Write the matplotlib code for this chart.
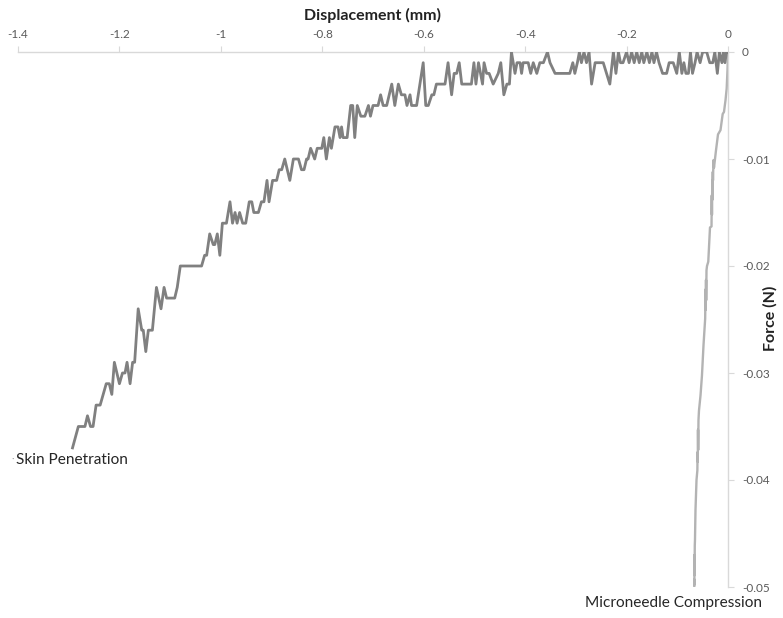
"""
Courbes force / déplacement : pénétration cutanée et compression des micro-aiguilles
"""

import matplotlib
matplotlib.use('Agg')
import matplotlib.pyplot as plt

# Pénétration dans la peau (mm, N)
skin_displacement = [
    -1.2925, -1.281, -1.268, -1.263, -1.257, -1.252, -1.246, -1.238, -1.226, -1.220,
    -1.215, -1.210, -1.200, -1.194, -1.189, -1.185, -1.179, -1.174, -1.170, -1.163,
    -1.156, -1.153, -1.148, -1.143, -1.135, -1.127, -1.118, -1.112, -1.107, -1.091,
    -1.086, -1.080, -1.038, -1.032, -1.028, -1.022, -1.015, -1.012, -1.007, -1.002,
    -0.997, -0.989, -0.982, -0.977, -0.972, -0.968, -0.963, -0.957, -0.951, -0.944,
    -0.939, -0.935, -0.926, -0.920, -0.915, -0.909, -0.905, -0.898, -0.890, -0.885,
    -0.880, -0.874, -0.864, -0.857, -0.847, -0.841, -0.836, -0.831, -0.828, -0.823,
    -0.815, -0.810, -0.801, -0.797, -0.792, -0.786, -0.782, -0.775, -0.769, -0.765,
    -0.762, -0.759, -0.751, -0.744, -0.740, -0.736, -0.731, -0.724, -0.716, -0.709,
    -0.705, -0.700, -0.690, -0.685, -0.680, -0.673, -0.663, -0.657, -0.650, -0.644,
    -0.637, -0.633, -0.627, -0.624, -0.614, -0.601, -0.596, -0.591, -0.584, -0.580,
    -0.575, -0.558, -0.552, -0.545, -0.540, -0.535, -0.530, -0.525, -0.506, -0.501,
    -0.497, -0.492, -0.488, -0.484, -0.481, -0.476, -0.471, -0.463, -0.453, -0.448,
    -0.442, -0.436, -0.431, -0.427, -0.420, -0.416, -0.410, -0.407, -0.404, -0.394,
    -0.389, -0.384, -0.377, -0.371, -0.364, -0.356, -0.351, -0.341, -0.312, -0.306,
    -0.302, -0.297, -0.293, -0.289, -0.284, -0.279, -0.274, -0.269, -0.262, -0.246,
    -0.233, -0.226, -0.221, -0.216, -0.212, -0.207, -0.200, -0.195, -0.190, -0.185,
    -0.180, -0.175, -0.170, -0.166, -0.160, -0.155, -0.150, -0.146, -0.141, -0.136,
    -0.129, -0.121, -0.116, -0.108, -0.101, -0.096, -0.091, -0.087, -0.083, -0.078,
    -0.074, -0.070, -0.065, -0.061, -0.055, -0.050, -0.042, -0.036, -0.030, -0.026,
    -0.021, -0.017, -0.012, -0.009, -0.006, -0.003, 0.0,
]
skin_force = [
    -0.037, -0.035, -0.035, -0.034, -0.035, -0.035, -0.033, -0.033, -0.031, -0.031,
    -0.032, -0.029, -0.031, -0.030, -0.030, -0.029, -0.031, -0.029, -0.029, -0.024,
    -0.026, -0.026, -0.028, -0.026, -0.026, -0.022, -0.024, -0.022, -0.023, -0.023,
    -0.022, -0.020, -0.020, -0.019, -0.019, -0.017, -0.018, -0.018, -0.017, -0.019,
    -0.016, -0.016, -0.014, -0.016, -0.015, -0.016, -0.015, -0.016, -0.016, -0.014,
    -0.014, -0.015, -0.015, -0.014, -0.014, -0.012, -0.014, -0.012, -0.012, -0.011,
    -0.011, -0.010, -0.012, -0.010, -0.010, -0.011, -0.011, -0.010, -0.010, -0.009,
    -0.010, -0.009, -0.009, -0.008, -0.010, -0.008, -0.009, -0.007, -0.007, -0.008,
    -0.007, -0.008, -0.008, -0.005, -0.005, -0.008, -0.005, -0.006, -0.006, -0.005,
    -0.006, -0.005, -0.005, -0.004, -0.005, -0.005, -0.003, -0.005, -0.003, -0.004,
    -0.004, -0.005, -0.004, -0.005, -0.005, -0.001, -0.005, -0.005, -0.004, -0.004,
    -0.003, -0.003, -0.001, -0.004, -0.002, -0.002, -0.001, -0.003, -0.003, -0.001,
    -0.003, -0.001, -0.002, -0.003, -0.001, -0.002, -0.002, -0.003, -0.002, -0.001,
    -0.004, -0.003, -0.003, 0.000, -0.002, -0.001, -0.001, -0.002, -0.001, -0.001,
    -0.002, -0.001, -0.002, -0.001, -0.001, 0.000, -0.001, -0.002, -0.002, -0.001,
    -0.002, -0.001, 0.000, -0.001, 0.000, -0.001, 0.000, -0.003, -0.001, -0.001,
    -0.003, 0.000, -0.002, 0.000, -0.001, -0.001, 0.000, -0.001, 0.000, -0.001,
    0.000, -0.001, 0.000, -0.001, 0.000, -0.001, 0.000, -0.001, 0.000, -0.001,
    -0.002, -0.002, -0.001, -0.001, -0.002, 0.000, -0.002, -0.001, -0.002, -0.002,
    0.000, -0.002, -0.001, 0.000, -0.001, 0.000, 0.000, -0.001, -0.001, 0.000,
    -0.002, 0.000, -0.001, 0.000, -0.001, 0.000, 0.000,
]

# Compression des micro-aiguilles (mm, N)
needle_displacement = [
    0.0, -0.0010, -0.0026, -0.0049, -0.0079, -0.0105, -0.0148, -0.0197, -0.0237, -0.0276,
    -0.0286, -0.0296, -0.0300, -0.0306, -0.0310, -0.0316, -0.0320, -0.0325, -0.0355, -0.0389,
    -0.0414, -0.0424, -0.0430, -0.0434, -0.0440, -0.0444, -0.0450, -0.0483, -0.0513, -0.0542,
    -0.0572, -0.0582, -0.0588, -0.0592, -0.0596, -0.0600, -0.0604, -0.0621, -0.0641, -0.0651,
    -0.0655, -0.0659, -0.0661, -0.0663, -0.0662, -0.0665,
]
needle_force = [
    0.0, -0.0017, -0.0034, -0.0045, -0.0056, -0.0058, -0.0073, -0.0077, -0.0092, -0.0108,
    -0.0101, -0.0120, -0.0112, -0.0138, -0.0120, -0.0152, -0.0134, -0.0163, -0.0164, -0.0196,
    -0.0200, -0.0204, -0.0232, -0.0213, -0.0241, -0.0222, -0.0249, -0.0274, -0.0302, -0.0321,
    -0.0335, -0.0344, -0.0372, -0.0353, -0.0383, -0.0374, -0.0391, -0.0400, -0.0428, -0.0456,
    -0.0461, -0.0489, -0.0470, -0.0498, -0.0493, -0.0500,
]

x_ticks = [-1.4, -1.2, -1.0, -0.8, -0.6, -0.4, -0.2, 0.0]
x_tick_labels = ['-1.4', '-1.2', '-1', '-0.8', '-0.6', '-0.4', '-0.2', '0']
y_ticks = [0.0, -0.01, -0.02, -0.03, -0.04, -0.05]
y_tick_labels = ['0', '-0.01', '-0.02', '-0.03', '-0.04', '-0.05']

AXIS_COLOR = '#d9d9d9'
TEXT_COLOR = '#595959'

plt.rcParams['font.family'] = ['Lato', 'DejaVu Sans']

W, H = 783, 618
fig = plt.figure(figsize=(W / 100, H / 100), dpi=100)
ax = fig.add_axes([18 / W, 1 - 587 / H, 710 / W, 535 / H])

ax.plot(skin_displacement, skin_force, color='#808080', linewidth=2.0,
        solid_joinstyle='round', zorder=3)
ax.plot(needle_displacement, needle_force, color='#b3b3b3', linewidth=1.7,
        solid_joinstyle='round', zorder=2)

ax.set_xlim(-1.4, 0)
ax.set_ylim(-0.05, 0)

# Axes en haut et à droite, comme dans le tableur
ax.xaxis.tick_top()
ax.yaxis.tick_right()
ax.set_xticks(x_ticks)
ax.set_xticklabels(x_tick_labels)
ax.set_yticks(y_ticks)
ax.set_yticklabels(y_tick_labels)
ax.tick_params(axis='both', direction='out', length=4, width=0.8,
               color=AXIS_COLOR, labelcolor=TEXT_COLOR, labelsize=8.5)
ax.tick_params(axis='x', pad=5)
ax.tick_params(axis='y', pad=6)

for side in ['left', 'bottom']:
    ax.spines[side].set_visible(False)
for side in ['top', 'right']:
    ax.spines[side].set_color(AXIS_COLOR)
    ax.spines[side].set_linewidth(1.0)

# Titres des axes
fig.text(373 / W, 1 - 15 / H, 'Displacement (mm)', fontsize=11.5, fontweight='bold',
         color='#222222', ha='center', va='center')
fig.text(770 / W, 1 - 318 / H, 'Force (N)', fontsize=11.5, fontweight='bold',
         color='#222222', ha='center', va='center', rotation=90)

# Étiquettes des séries
fig.text(13 / W, 1 - 459 / H, '·', fontsize=7, color='#a0a0a0', ha='center', va='center')
fig.text(16 / W, 1 - 460 / H, 'Skin Penetration', fontsize=11.1, color='#262626',
         ha='left', va='center')
fig.text(585 / W, 1 - 603 / H, 'Microneedle Compression', fontsize=11.1, color='#262626',
         ha='left', va='center')

fig.savefig('out.png', dpi=100)
